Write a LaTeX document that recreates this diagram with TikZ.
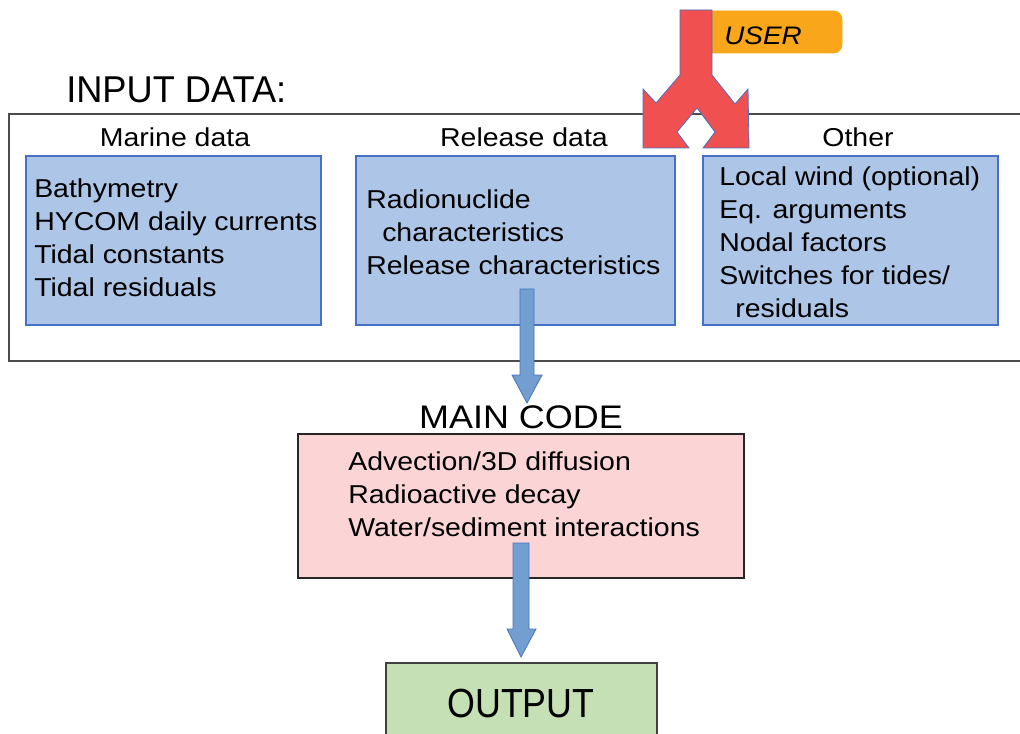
\documentclass[tikz,border=0pt]{standalone}
\usepackage{fontspec}
\setmainfont{Liberation Sans}[FakeStretch=1.1]
\newfontfamily\inputfont{Liberation Sans}[FakeStretch=0.97]
\newfontfamily\outputfont{Liberation Sans}[FakeStretch=0.88]
\usetikzlibrary{fit}

\definecolor{boxblue}{RGB}{173,197,231}
\definecolor{edgeblue}{RGB}{68,114,196}
\definecolor{codepink}{RGB}{251,213,213}
\definecolor{outgreen}{RGB}{197,224,180}
\definecolor{flowblue}{RGB}{114,159,207}
\definecolor{userred}{RGB}{240,80,80}
\definecolor{userorange}{RGB}{249,166,27}

\tikzset{
	databox/.style={draw=edgeblue,fill=boxblue,line width=0.8pt,inner sep=0pt},
	codebox/.style={draw=black!85,fill=codepink,line width=0.8pt,inner sep=0pt},
	bodytext/.style={font=\fontsize{19.4}{24.75}\selectfont,align=left,inner sep=0pt,anchor=west},
	headtext/.style={font=\fontsize{19.4}{24.75}\selectfont,inner sep=0pt,anchor=base},
	bigtext/.style={font=\fontsize{24.5}{29}\selectfont,inner sep=0pt,anchor=base},
	flowarrow/.style={draw=edgeblue,fill=flowblue,line width=0.6pt,line join=miter}
}

\begin{document}
\begin{tikzpicture}[x=0.75pt,y=-0.75pt]
		\clip(0,0) rectangle (1020,734);
		\fill[white](0,0) rectangle (1020,734);
		% input frame
		\draw[black!70,line width=0.9pt](1025,114)--(9,114)--(9,361)--(1025,361);
		\node[bigtext,anchor=base west,font=\inputfont\fontsize{28}{32}\selectfont](inputlbl) at(66,103){INPUT DATA:};
		\node[headtext](marinehd) at(175,147){Marine data};
		\node[headtext](releasehd) at(524,147){Release data};
		\node[headtext](otherhd) at(858,147){Other};
		% the three data boxes
		\node[databox,fit={(26,156) (321,325)}](marine){};
		\node[databox,fit={(356,156) (675,325)}](release){};
		\node[databox,fit={(703,156) (998,325)}](other){};
		\node[bodytext](marinetxt) at(34,238){Bathymetry\\HYCOM daily currents\\Tidal constants\\Tidal residuals};
		\node[bodytext](releasetxt) at(366,232){Radionuclide\\\hspace*{12pt}characteristics\\Release characteristics};
		\node[bodytext](othertxt) at(719,242){Local wind (optional)\\Eq. arguments\\Nodal factors\\Switches for tides/\\\hspace*{12pt}residuals};
		% user input
		\draw[userorange,fill=userorange,rounded corners=6pt](700,11) rectangle (842,53);
		\node[font=\fontsize{19}{23}\selectfont\itshape,inner sep=0pt,anchor=base](user) at(763,45){USER};
		\draw[edgeblue,fill=userred,line width=0.6pt,line join=miter](680,10)--(680,75)--(656,103)--(643,89)--(643,148)--(689,148)--(677,132)--(697,108)--(715,132)--(703,148)--(749,148)--(748,89)--(735,104)--(712,75)--(712,10)--cycle;
		% main code
		\node[bigtext](mainlbl) at(521,428){MAIN CODE};
		\node[codebox,fit={(298,434) (744,578)}](main){};
		\node[bodytext](maintxt) at(348,494){Advection/3D diffusion\\Radioactive decay\\Water/sediment interactions};
		% output
		\fill[outgreen](386,663) rectangle (657,740);
		\draw[black!75,line width=0.8pt](386,740)--(386,663)--(657,663)--(657,740);
		\node[bigtext,font=\outputfont\fontsize{30.5}{36}\selectfont](outlbl) at(521,717){OUTPUT};
		% flow arrows
		\draw[flowarrow](520,289)--(534,289)--(534,375)--(542,375)--(527,403)--(512,375)--(520,375)--cycle;
		\draw[flowarrow](513,543)--(529,543)--(529,629)--(536,629)--(521,657)--(507,629)--(513,629)--cycle;
	\end{tikzpicture}
\end{document}
